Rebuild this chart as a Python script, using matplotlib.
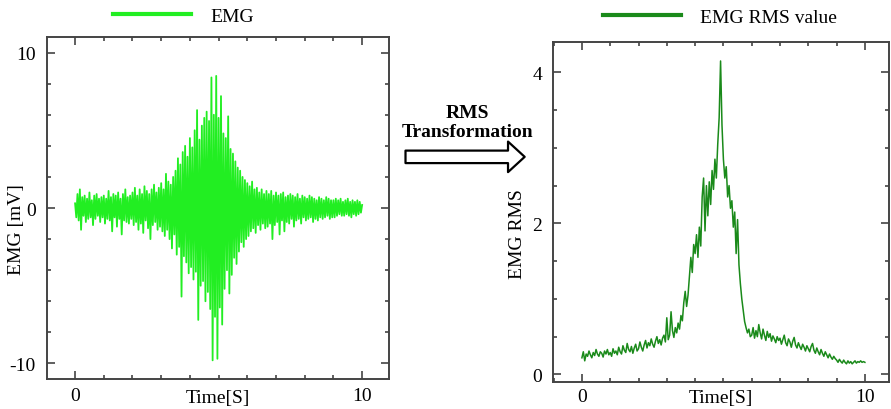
import numpy as np
import matplotlib
matplotlib.use("Agg")
import matplotlib.pyplot as plt
from matplotlib.ticker import MultipleLocator

# raw EMG, 24 samples per second
emg = [
    0.3, -0.6, 0.9, -0.8, 1.2, -1.4, 0.7, -0.5, 0.8, -0.9, 0.6, -0.7, 1.0, -0.6, 0.5, -1.1, 0.8, -0.7, 0.9, -0.5, 0.6, -0.9, 0.7, -0.6,
    0.8, -1.0, 0.6, -0.7, 1.1, -0.8, 0.7, -1.5, 0.9, -0.6, 0.8, -1.2, 1.0, -0.7, 0.6, -1.7, 0.9, -0.8, 1.2, -0.9, 0.7, -1.0, 0.8, -0.7,
    1.0, -1.1, 1.3, -0.9, 0.8, -1.4, 1.2, -1.0, 0.9, -1.6, 1.4, -0.8, 1.1, -1.3, 0.9, -2.0, 1.2, -1.1, 1.5, -0.9, 1.0, -1.4, 1.3, -1.2,
    1.6, -1.5, 1.2, -1.8, 2.2, -1.4, 1.7, -2.0, 1.5, -2.6, 2.0, -1.7, 2.4, -3.0, 3.2, -2.5, 2.8, -5.7, 3.6, -3.1, 4.0, -3.5, 3.3, -4.2,
    4.5, -3.8, 3.9, -4.6, 5.0, -4.1, 6.3, -7.2, 4.4, -5.0, 5.3, -4.7, 5.8, -6.0, 6.2, -5.4, 5.6, -6.5, 8.4, -9.8, 6.0, -7.0, 8.5, -9.7,
    5.8, -6.4, 7.2, -7.5, 4.8, -5.2, 4.5, -4.0, 5.9, -5.5, 3.8, -4.3, 3.5, -3.2, 3.0, -3.6, 2.6, -2.8, 2.4, -2.2, 2.0, -2.5, 1.8, -2.0,
    1.6, -1.8, 1.4, -1.5, 1.7, -1.3, 1.2, -1.6, 1.3, -1.1, 1.0, -1.4, 1.2, -1.0, 0.9, -1.3, 1.1, -1.2, 0.9, -1.0, 1.1, -2.0, 0.8, -1.1,
    1.0, -0.9, 0.8, -1.7, 0.9, -0.8, 1.0, -1.5, 0.7, -0.9, 0.8, -1.0, 0.9, -0.7, 0.8, -1.2, 0.7, -0.8, 0.9, -0.7, 0.6, -1.0, 0.8, -0.6,
    0.7, -0.8, 0.6, -0.7, 0.8, -0.6, 0.7, -0.9, 0.6, -0.7, 0.5, -0.8, 0.7, -0.6, 0.6, -0.7, 0.5, -0.6, 0.7, -0.5, 0.6, -0.7, 0.5, -0.6,
    0.5, -0.6, 0.6, -0.5, 0.5, -0.4, 0.6, -0.5, 0.4, -0.5, 0.5, -0.4, 0.6, -0.5, 0.4, -0.6, 0.5, -0.4, 0.4, -0.5, 0.5, -0.4, 0.4, -0.3,
    0.2,
]

# RMS envelope, 20 samples per second
rms = [
    0.22, 0.30, 0.18, 0.27, 0.24, 0.31, 0.26, 0.22, 0.29, 0.25, 0.33, 0.27, 0.24, 0.30, 0.28, 0.23, 0.31, 0.27, 0.33, 0.26,
    0.29, 0.24, 0.34, 0.28, 0.31, 0.26, 0.36, 0.30, 0.27, 0.38, 0.32, 0.29, 0.41, 0.33, 0.30, 0.37, 0.28, 0.35, 0.40, 0.31,
    0.34, 0.43, 0.36, 0.31, 0.39, 0.45, 0.35, 0.42, 0.38, 0.47, 0.40, 0.36, 0.44, 0.50, 0.41, 0.46, 0.39, 0.48, 0.52, 0.43,
    0.75, 0.46, 0.52, 0.83, 0.58, 0.49, 0.62, 0.55, 0.68, 0.60, 0.78, 0.71, 0.95, 1.10, 0.90, 1.05, 1.30, 1.55, 1.35, 1.72,
    1.60, 1.85, 1.55, 1.95, 1.70, 2.35, 2.60, 1.90, 2.50, 2.10, 2.55, 2.25, 2.70, 2.45, 2.85, 2.60, 3.05, 3.40, 4.15, 3.30,
    2.85, 2.60, 2.75, 2.35, 2.50, 2.20, 2.30, 1.95, 2.15, 1.60, 2.05, 1.45, 1.20, 1.00, 0.85, 0.70, 0.62, 0.55, 0.60, 0.50,
    0.52, 0.62, 0.48, 0.58, 0.50, 0.66, 0.55, 0.47, 0.60, 0.52, 0.45, 0.57, 0.49, 0.54, 0.44, 0.51, 0.47, 0.42, 0.50, 0.45,
    0.48, 0.40, 0.46, 0.52, 0.42, 0.38, 0.47, 0.43, 0.36, 0.44, 0.49, 0.39, 0.35, 0.42, 0.37, 0.33, 0.40, 0.36, 0.31, 0.38,
    0.34, 0.30, 0.37, 0.41, 0.32, 0.28, 0.35, 0.30, 0.26, 0.33, 0.28, 0.24, 0.30, 0.26, 0.22, 0.27, 0.23, 0.20, 0.24, 0.21,
    0.19, 0.16, 0.20, 0.17, 0.15, 0.19, 0.16, 0.14, 0.18, 0.15, 0.17, 0.14, 0.16, 0.18, 0.15, 0.17, 0.16, 0.18, 0.16, 0.17,
    0.16,
]

DURATION = 10  # seconds
EMG_COLOR = '#22ee22'
RMS_COLOR = '#1a8a1a'

plt.rcParams['font.family'] = ['Liberation Serif', 'DejaVu Serif']
plt.rcParams['font.size'] = 14
plt.rcParams['axes.unicode_minus'] = False


def style_axes(ax, ymajor, yminor, xpad):
    # boxed axes with inward ticks on every side
    for s in ax.spines.values():
        s.set_color('#444444')
        s.set_linewidth(1.4)
    ax.xaxis.set_major_locator(MultipleLocator(10))
    ax.xaxis.set_minor_locator(MultipleLocator(1))
    ax.yaxis.set_major_locator(MultipleLocator(ymajor))
    ax.yaxis.set_minor_locator(MultipleLocator(yminor))
    ax.tick_params(which='both', direction='in', top=True, right=True,
                   color='#444444', width=1.2)
    ax.tick_params(which='major', length=6)
    ax.tick_params(which='minor', length=3)
    ax.tick_params(axis='y', pad=8)
    ax.tick_params(axis='x', pad=xpad)


fig = plt.figure(figsize=(8.91, 4.10), dpi=100)

# left panel: raw EMG
ax1 = fig.add_axes([0.0527, 0.0732, 0.384, 0.834])
t_emg = np.linspace(0, DURATION, len(emg))
ax1.plot(t_emg, emg, color=EMG_COLOR, lw=1.3, label='EMG')
ax1.set_xlim(-0.98, 10.94)
ax1.set_ylim(-11, 11)
style_axes(ax1, 10, 2, 6)
ax1.text(0.5, -0.053, 'Time[S]', transform=ax1.transAxes, ha='center', va='center')
fig.text(0.018, 0.44, 'EMG [mV]', rotation=90, ha='center', va='center')
leg1 = ax1.legend(loc='center', bbox_to_anchor=(0.206, 0.959), bbox_transform=fig.transFigure,
                  frameon=False, handlelength=4.0, handletextpad=1.0)
for line in leg1.get_lines():
    line.set_linewidth(3)

# right panel: RMS value
ax2 = fig.add_axes([0.6207, 0.0659, 0.377, 0.829])
t_rms = np.linspace(0, DURATION, len(rms))
ax2.plot(t_rms, rms, color=RMS_COLOR, lw=1.1, label='EMG RMS value')
ax2.set_xlim(-1.02, 10.85)
ax2.set_ylim(-0.1, 4.4)
style_axes(ax2, 2, 0.5, 4)
ax2.text(0.5, -0.045, 'Time[S]', transform=ax2.transAxes, ha='center', va='center')
fig.text(0.581, 0.43, 'EMG RMS', rotation=90, ha='center', va='center')
leg2 = ax2.legend(loc='center', bbox_to_anchor=(0.808, 0.955), bbox_transform=fig.transFigure,
                  frameon=False, handlelength=4.0, handletextpad=1.0)
for line in leg2.get_lines():
    line.set_linewidth(3)

# the arrow in between
fig.text(0.525, 0.724, 'RMS', ha='center', va='center', fontweight='bold')
fig.text(0.525, 0.676, 'Transformation', ha='center', va='center', fontweight='bold')
fig.patches.append(matplotlib.patches.FancyArrowPatch(
    (0.452, 0.615), (0.592, 0.615), transform=fig.transFigure,
    arrowstyle='simple,head_length=0.6,head_width=1.1,tail_width=0.45',
    mutation_scale=20, fc='white', ec='black', lw=1.6))

fig.savefig('out.png', dpi=100)
